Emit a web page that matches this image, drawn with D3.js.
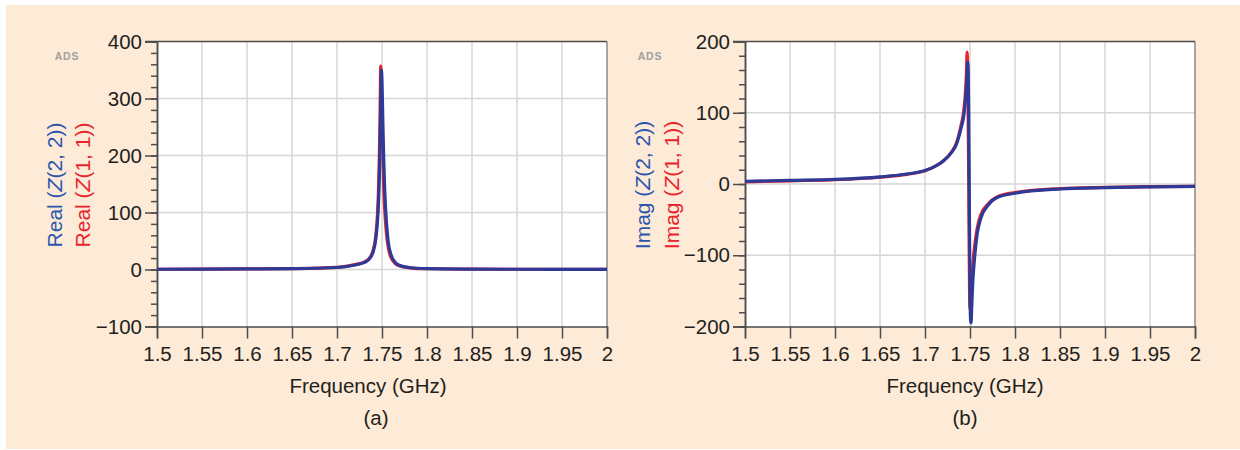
<!DOCTYPE html>
<html>
<head>
<meta charset="utf-8">
<script src="https://cdn.jsdelivr.net/npm/d3@7"></script>
<style>
  body { margin: 0; background: #fff; }
  svg { display: block; font-family: "Liberation Sans", Arial, sans-serif; }
</style>
</head>
<body>
<svg id="chart" width="1240" height="450"></svg>
<script>
// values
const freqReal = [1.50, 1.55, 1.60, 1.65, 1.70, 1.72, 1.73, 1.735, 1.74, 1.743, 1.745, 1.746, 1.747, 1.7475, 1.748, 1.7486, 1.749, 1.7494, 1.750, 1.7505, 1.751, 1.752, 1.753, 1.755, 1.757, 1.76, 1.765, 1.77, 1.78, 1.80, 1.85, 1.90, 1.95, 2.00];
const realZ22 = [0.4, 0.6, 1, 1.5, 3.5, 8, 12, 17, 30, 52, 85, 112, 160, 195, 235, 290, 335, 350, 330, 295, 255, 190, 140, 82, 48, 26, 12, 7, 3.5, 1.5, 0.7, 0.4, 0.3, 0.2];
const realZ11 = [0.4, 0.6, 1, 1.6, 3.7, 8.5, 13, 18, 33, 58, 98, 135, 195, 240, 295, 357, 340, 315, 270, 235, 200, 140, 105, 62, 38, 21, 10, 6, 3, 1.3, 0.6, 0.4, 0.3, 0.2];

const freqImag = [1.50, 1.55, 1.60, 1.65, 1.68, 1.70, 1.71, 1.72, 1.73, 1.735, 1.74, 1.743, 1.745, 1.746, 1.7468, 1.7474, 1.748, 1.7486, 1.749, 1.7495, 1.750, 1.7506, 1.7512, 1.752, 1.753, 1.755, 1.758, 1.762, 1.77, 1.78, 1.80, 1.85, 1.90, 1.95, 2.00];
const imagZ22 = [3.7, 5, 6.5, 10, 14, 19, 24, 32, 45, 56, 78, 95, 118, 135, 155, 171, 160, 100, 20, -70, -150, -190, -195, -170, -140, -105, -70, -48, -30, -19, -13, -7, -5, -4, -3.4];
const imagZ11 = [3, 4.5, 6, 9.5, 13.5, 18.5, 24, 32, 46, 58, 82, 102, 130, 155, 185, 160, 90, 0, -80, -150, -176, -170, -155, -135, -115, -88, -62, -43, -28, -18, -12, -6.5, -4.8, -3.8, -3.2];

const xTicks = [1.5, 1.55, 1.6, 1.65, 1.7, 1.75, 1.8, 1.85, 1.9, 1.95, 2];
const yTicksReal = [-100, 0, 100, 200, 300, 400];
const yTicksImag = [-200, -100, 0, 100, 200];

const blue = "#2e3a98", red = "#e8232b";
const blueText = "#2b56ad", redText = "#e8232b";

const svg = d3.select("#chart");

svg.append("rect")
  .attr("x", 6).attr("y", 5)
  .attr("width", 1234).attr("height", 444)
  .attr("fill", "#fdead7");

function drawPanel(p) {
  const x = d3.scaleLinear().domain([1.5, 2]).range([p.left, p.left + 450]);
  const y = d3.scaleLinear().domain(p.yDomain).range([326.5, 41.5]);
  const g = svg.append("g");

  g.append("rect")
    .attr("x", x(1.5)).attr("y", y(p.yDomain[1]))
    .attr("width", x(2) - x(1.5)).attr("height", y(p.yDomain[0]) - y(p.yDomain[1]))
    .attr("fill", "#fff");

  // grid
  g.selectAll(".vg").data(xTicks.slice(1, -1)).join("line")
    .attr("x1", d => x(d)).attr("x2", d => x(d))
    .attr("y1", y.range()[1]).attr("y2", y.range()[0])
    .attr("stroke", "#d6d6d6").attr("stroke-width", 1.5);
  g.selectAll(".hg").data(p.yTicks.slice(1, -1)).join("line")
    .attr("x1", x(1.5)).attr("x2", x(2))
    .attr("y1", d => y(d)).attr("y2", d => y(d))
    .attr("stroke", "#d6d6d6").attr("stroke-width", 1.5);

  // right border
  g.append("line")
    .attr("x1", x(2)).attr("x2", x(2))
    .attr("y1", y.range()[1]).attr("y2", y.range()[0])
    .attr("stroke", "#8a8a8a").attr("stroke-width", 1.5);

  // axes
  g.append("g")
    .attr("transform", `translate(0,${y.range()[0]})`)
    .call(d3.axisBottom(x).tickValues(xTicks).tickSize(12).tickPadding(8)
      .tickFormat(d3.format("")));
  const yMinor = d3.range(p.yDomain[0], p.yDomain[1] + 1, 20);
  g.append("g")
    .attr("transform", `translate(${x(1.5)},0)`)
    .call(d3.axisLeft(y).tickValues(yMinor).tickSize(6).tickFormat(""));
  g.append("g")
    .attr("transform", `translate(${x(1.5)},0)`)
    .call(d3.axisLeft(y).tickValues(p.yTicks).tickSize(12).tickPadding(3)
      .tickFormat(d => d < 0 ? "\u2212" + Math.abs(d) : d));

  g.selectAll(".domain").attr("stroke", "#4d4d4d").attr("stroke-width", 1.5);
  g.selectAll(".tick line").attr("stroke", "#4d4d4d").attr("stroke-width", 1.5);
  g.selectAll(".tick text").attr("fill", "#231f20").attr("font-size", 20.5)
    .attr("font-family", "'Liberation Sans', Arial, sans-serif");

  // top border
  g.append("line")
    .attr("x1", x(1.5) - 12).attr("x2", x(2))
    .attr("y1", y.range()[1]).attr("y2", y.range()[1])
    .attr("stroke", "#4d4d4d").attr("stroke-width", 1.5);

  // curves
  const clipId = "clip" + p.name;
  svg.append("clipPath").attr("id", clipId).append("rect")
    .attr("x", x(1.5)).attr("y", y.range()[1] - 2)
    .attr("width", 450).attr("height", y.range()[0] - y.range()[1] + 4);

  const line = d3.line().curve(d3.curveMonotoneX).x(d => x(d[0])).y(d => y(d[1]));
  g.append("path")
    .datum(p.freq.map((f, i) => [f, p.red[i]]))
    .attr("d", line).attr("clip-path", `url(#${clipId})`)
    .attr("fill", "none").attr("stroke", red).attr("stroke-width", 3.2)
    .attr("stroke-linejoin", "round");
  g.append("path")
    .datum(p.freq.map((f, i) => [f, p.blue[i]]))
    .attr("d", line).attr("clip-path", `url(#${clipId})`)
    .attr("fill", "none").attr("stroke", blue).attr("stroke-width", 3.2)
    .attr("stroke-linejoin", "round");

  // ADS tag
  g.append("text")
    .attr("x", p.adsX).attr("y", 60)
    .attr("text-anchor", "middle")
    .attr("font-size", 10.5).attr("font-weight", "bold")
    .attr("letter-spacing", 0.8)
    .attr("fill", "#a0a0a0")
    .text("ADS");

  // y titles
  [[p.blueX, blueText, "2, 2"], [p.redX, redText, "1, 1"]].forEach(([tx, col, idx]) => {
    const t = g.append("text")
      .attr("transform", `translate(${tx},185) rotate(-90)`)
      .attr("text-anchor", "middle")
      .attr("font-size", 21)
      .attr("fill", col);
    t.append("tspan").text(p.part + " (");
    t.append("tspan").attr("font-style", "italic").text("Z");
    t.append("tspan").text("(" + idx + "))");
  });

  // x title and panel letter
  g.append("text")
    .attr("x", p.titleX).attr("y", 393)
    .attr("text-anchor", "middle").attr("font-size", 20.5).attr("fill", "#231f20")
    .text("Frequency (GHz)");
  g.append("text")
    .attr("x", p.letterX).attr("y", 425)
    .attr("text-anchor", "middle").attr("font-size", 20.5).attr("fill", "#231f20")
    .text(p.letter);
}

drawPanel({
  name: "a", left: 157, yDomain: [-100, 400], yTicks: yTicksReal,
  freq: freqReal, blue: realZ22, red: realZ11, part: "Real",
  adsX: 67, blueX: 62, redX: 90, titleX: 368, letterX: 376, letter: "(a)"
});
drawPanel({
  name: "b", left: 745, yDomain: [-200, 200], yTicks: yTicksImag,
  freq: freqImag, blue: imagZ22, red: imagZ11, part: "Imag",
  adsX: 650, blueX: 650, redX: 679, titleX: 965, letterX: 965, letter: "(b)"
});
</script>
</body>
</html>
